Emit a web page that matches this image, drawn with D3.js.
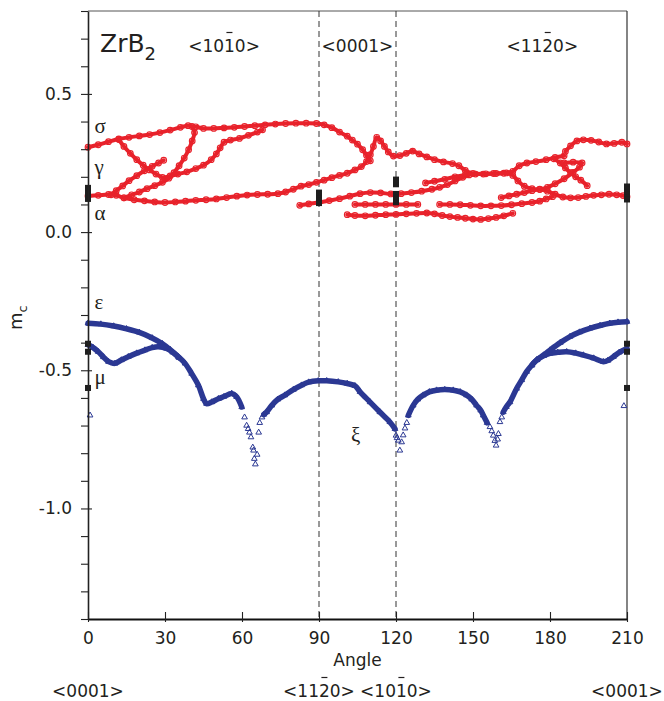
<!DOCTYPE html>
<html><head><meta charset="utf-8">
<script src="https://cdn.jsdelivr.net/npm/d3@7"></script>
<style>
html,body{margin:0;padding:0;background:#fff;}
svg text{font-family:"DejaVu Sans",sans-serif;fill:#231f20;}
svg text.greek{font-family:"Liberation Serif","DejaVu Serif",serif;}
</style></head><body>
<svg id="chart" width="664" height="701"></svg>
<script>
// ---- Schmid-factor branches, [angle (deg), m_c] ----
// red (circles): basal / prismatic systems
const sigmaTop = [[0,0.307],[4,0.316],[8,0.327],[12,0.337],[16,0.343],[20,0.348],[24,0.353],[28,0.36],[32,0.369],[36,0.379],[39,0.385],[42,0.381],[45,0.375],[49,0.375],[53,0.377],[57,0.379],[61,0.382],[65,0.385],[69,0.388],[73,0.391],[77,0.393],[81,0.394],[85,0.394],[89,0.393],[92,0.388],[95,0.378],[98,0.362],[101,0.347],[103,0.333],[105,0.318],[107,0.298],[108.5,0.278],[110,0.258]];
const gammaA = [[12,0.335],[14,0.31],[16.5,0.285],[19,0.262],[21.5,0.242],[24,0.225],[26.5,0.21],[29,0.198],[32,0.203],[35,0.21],[38.5,0.218],[42,0.23],[45,0.242],[48,0.262],[50,0.283],[51.5,0.305],[53,0.325],[55.5,0.333],[59,0.339],[62.5,0.35],[66,0.362],[68,0.37]];
const gammaB = [[9,0.135],[11,0.15],[13.5,0.167],[16,0.186],[19,0.204],[22,0.222],[25,0.238],[27.5,0.25],[29.5,0.26]];
const gammaC = [[14,0.124],[17,0.135],[20,0.145],[23,0.157],[26,0.168],[29,0.18],[31.5,0.195],[33.5,0.215],[35.5,0.24],[37.5,0.268],[39.2,0.298],[40.6,0.33],[41.5,0.36],[40.5,0.382]];
const alphaMain = [[0,0.131],[4,0.133],[8,0.136],[11,0.133],[14,0.124],[18,0.117],[22,0.113],[26,0.109],[30,0.107],[34,0.109],[38,0.112],[42,0.115],[46,0.117],[50,0.12],[54,0.125],[58,0.13],[62,0.134],[66,0.136],[70,0.137],[74,0.139],[77,0.145],[80,0.155],[83,0.166],[86,0.172],[89,0.18],[92,0.188],[95,0.197],[98,0.205],[101,0.213],[104,0.225],[106.5,0.237],[108.5,0.255],[110,0.28],[111.2,0.31],[112.5,0.343],[114,0.33],[115.5,0.31],[117,0.29],[119,0.275],[121.5,0.277],[124,0.285],[126.5,0.293],[129,0.283],[132,0.272],[135,0.262],[138.5,0.254],[142,0.248],[144.5,0.24],[147,0.223],[150,0.212],[154,0.21],[158,0.212],[162,0.213],[165.5,0.22],[168,0.24],[171,0.25],[174.5,0.255],[178.5,0.262],[182,0.27],[185.5,0.276]];
const midLine = [[82.5,0.097],[86,0.102],[90,0.107],[94,0.114],[98,0.121],[102,0.13],[106,0.139],[110,0.143],[114,0.142],[118,0.138],[122,0.139],[126,0.143],[130,0.148],[134,0.155],[137,0.162],[140,0.172],[143,0.185],[146,0.198],[148.5,0.207]];
const gammaRight = [[131.5,0.178],[135,0.184],[139,0.191],[143,0.2],[147,0.207],[151,0.21],[155,0.211],[159,0.212],[163,0.214],[165.5,0.205],[167.5,0.185],[170,0.166],[173,0.157],[176,0.155],[179,0.162],[182,0.175],[185.5,0.193],[189,0.216],[191.5,0.235],[192.5,0.25],[189,0.253],[185.5,0.25]];
const crossRight = [[181.5,0.265],[184,0.25],[186,0.232],[188,0.215],[190,0.2],[192,0.188],[194.5,0.168]];
const topRight = [[186,0.292],[188,0.312],[190.5,0.33],[193,0.334],[196,0.332],[199,0.326],[202,0.319],[205,0.321],[208,0.325],[210,0.319]];
const alphaRight = [[161,0.125],[164,0.131],[167,0.137],[170,0.143],[173,0.15],[176,0.154],[179,0.148],[182,0.137],[185,0.127],[188,0.124],[191,0.125],[194,0.129],[197,0.133],[200,0.135],[203,0.137],[206,0.135],[208.5,0.132],[210,0.128]];
const flatLeft = [[104,0.1],[108,0.1],[112,0.1],[116,0.1],[120,0.1],[124,0.1],[128.5,0.1]];
const flatRight = [[137,0.1],[141,0.1],[145,0.099],[149,0.097],[153,0.095],[157,0.095],[161,0.096],[165,0.099],[169,0.103],[173,0.107],[176,0.112],[178.5,0.12],[181,0.128]];
const lowLine = [[101,0.063],[104,0.06],[108,0.059],[112,0.061],[116,0.063],[120,0.064],[124,0.066],[128,0.068],[132,0.069],[135,0.066],[138,0.06],[141,0.056],[144,0.053],[147,0.05],[150,0.047],[153,0.046],[156,0.049],[159,0.053],[162,0.059],[165.5,0.068]];

// blue (triangles): pyramidal systems
const epsLeft = [[0,-0.33],[5,-0.333],[10,-0.34],[15,-0.35],[20,-0.363],[25,-0.383],[29,-0.404],[32,-0.425],[35.2,-0.451],[37.8,-0.475],[40.4,-0.512],[43,-0.554],[45,-0.603],[46.2,-0.621],[48.2,-0.615],[50.8,-0.603],[53,-0.595],[56,-0.584],[57.9,-0.596],[59.9,-0.633]];
const muLeft = [[0,-0.408],[2,-0.418],[4,-0.433],[6,-0.452],[8,-0.469],[10.5,-0.475],[13,-0.463],[15.7,-0.451],[19,-0.438],[22.2,-0.427],[25,-0.418],[27.4,-0.415],[30.6,-0.421],[33,-0.435],[35.5,-0.455]];
const arch90 = [[68.5,-0.66],[69.6,-0.651],[71.6,-0.627],[74,-0.605],[76.7,-0.59],[80,-0.57],[83.2,-0.554],[86,-0.543],[89.7,-0.538],[93,-0.538],[97.5,-0.542],[101,-0.548],[104,-0.556],[106,-0.578],[109.9,-0.615],[113.7,-0.651],[117.6,-0.687],[119.6,-0.712]];
const arch135 = [[124.8,-0.663],[126.7,-0.627],[128.5,-0.605],[130.6,-0.59],[133,-0.578],[135.8,-0.572],[139,-0.57],[142.3,-0.572],[145,-0.578],[147.5,-0.59],[149.5,-0.605],[151.4,-0.627],[153,-0.645],[154,-0.663],[155.5,-0.69]];
const epsRight = [[161.8,-0.651],[163,-0.632],[164.4,-0.615],[167,-0.566],[169,-0.535],[170.9,-0.505],[172.8,-0.483],[174.8,-0.463],[177.5,-0.445],[180,-0.427],[184,-0.4],[187.8,-0.378],[191.5,-0.362],[195.6,-0.348],[199.5,-0.338],[203.3,-0.33],[206.5,-0.326],[210,-0.324]];
const muRight = [[173,-0.48],[175,-0.462],[177.5,-0.448],[180,-0.439],[183,-0.435],[186.5,-0.433],[190,-0.438],[193,-0.445],[197,-0.456],[200.8,-0.469],[202.5,-0.465],[204.7,-0.451],[207,-0.435],[210,-0.421]];
// scattered points near the minima
const blueScatter = [[0.8,-0.663],[61,-0.67],[61.8,-0.70],[62.4,-0.712],[62.9,-0.725],[63.5,-0.742],[64.2,-0.779],[64.5,-0.79],[64.8,-0.82],[65.2,-0.84],[65.9,-0.805],[66.5,-0.725],[66.9,-0.69],[67.8,-0.67],
  [120,-0.736],[120.4,-0.745],[120.9,-0.754],[121.5,-0.79],[122.2,-0.76],[122.8,-0.735],[123.5,-0.71],[124.2,-0.69],
  [156.6,-0.705],[157.3,-0.72],[157.9,-0.736],[158.5,-0.755],[159,-0.772],[159.6,-0.75],[159.9,-0.73],[160.5,-0.687],[161.2,-0.67],[208.8,-0.629]];

// black: values at the symmetric directions
const blackPoints = [[0,0.12],[0,0.13],[0,0.14],[0,0.15],[0,0.16],[90,0.105],[90,0.115],[90,0.125],[90,0.135],[90,0.143],[120,0.108],[120,0.118],[120,0.128],[120,0.138],[120,0.173],[120,0.19],[210,0.118],[210,0.128],[210,0.138],[210,0.148],[210,0.158],[210,0.165],[0,-0.404],[0,-0.433],[0,-0.564],[210,-0.404],[210,-0.433],[210,-0.564]];

// axes
const xTicks = [0,30,60,90,120,150,180,210];
const yMajor = [-1.0,-0.5,0.0,0.5];
const dashedAt = [90,120];
const topLabels = [{t:"<1010>", at:53, bar:3},{t:"<0001>", at:105, bar:-1},{t:"<1120>", at:177, bar:3}];
const bottomLabels = [{t:"<0001>", at:0, bar:-1},{t:"<1120>", at:90, bar:3},{t:"<1010>", at:120, bar:3},{t:"<0001>", at:210, bar:-1}];
const greekLabels = [{t:"σ", a:2.5, v:0.358},{t:"γ", a:2.5, v:0.21},{t:"α", a:2.5, v:0.045},{t:"ε", a:2.5, v:-0.28},{t:"μ", a:2.5, v:-0.55},{t:"ξ", a:102.5, v:-0.76}];

const redColor = "#e8222b", blueColor = "#2b3893";
const svg = d3.select("#chart");
const x = d3.scaleLinear().domain([0,210]).range([88,627]);
const y = d3.scaleLinear().domain([-1.4,0.8]).range([619,11]);
const line = d3.line().x(d=>x(d[0])).y(d=>y(d[1])).curve(d3.curveCatmullRom.alpha(0.5));

// frame
svg.append("line").attr("x1",x(0)).attr("x2",x(210)).attr("y1",y(0.8)).attr("y2",y(0.8)).attr("stroke","#555").attr("stroke-width",1);
svg.append("line").attr("x1",x(210)).attr("x2",x(210)).attr("y1",y(0.8)).attr("y2",y(-1.4)).attr("stroke","#333").attr("stroke-width",1.2);
svg.selectAll(".dash").data(dashedAt).join("line").attr("x1",d=>x(d)).attr("x2",d=>x(d)).attr("y1",y(0.8)).attr("y2",y(-1.4))
  .attr("stroke","#333").attr("stroke-width",1).attr("stroke-dasharray","6,4");

// red branches
const redBranches = [sigmaTop,gammaA,gammaB,gammaC,alphaMain,midLine,gammaRight,crossRight,topRight,alphaRight,flatLeft,flatRight,lowLine];
const gRed = svg.append("g");
redBranches.forEach(b=>{
  gRed.append("path").attr("d",line(b)).attr("fill","none").attr("stroke",redColor).attr("stroke-width",4).attr("stroke-linecap","round");
  gRed.selectAll(null).data(b).join("circle").attr("cx",d=>x(d[0])).attr("cy",d=>y(d[1])).attr("r",2.8)
    .attr("fill","none").attr("stroke",redColor).attr("stroke-width",1.2);
});

// blue branches
const blueBranches = [epsLeft,muLeft,arch90,arch135,epsRight,muRight];
const gBlue = svg.append("g");
const tri = d3.symbol().type(d3.symbolTriangle).size(14);
blueBranches.forEach(b=>{
  gBlue.append("path").attr("d",line(b)).attr("fill","none").attr("stroke",blueColor).attr("stroke-width",5.5).attr("stroke-linecap","round");
});
gBlue.selectAll(".tri").data(blueBranches.flat().concat(blueScatter)).join("path")
  .attr("transform",d=>`translate(${x(d[0])},${y(d[1])})`).attr("d",tri)
  .attr("fill","none").attr("stroke",blueColor).attr("stroke-width",1);

// black squares
svg.selectAll(".sq").data(blackPoints).join("rect")
  .attr("x",d=>x(d[0])-3).attr("y",d=>y(d[1])-3).attr("width",6).attr("height",6).attr("fill","#1e1e1e");

// y axis
const yAll = d3.range(-14,9).map(v=>v/10);
const yAxis = d3.axisLeft(y).tickValues(yAll).tickSizeInner(7).tickSizeOuter(0).tickPadding(9)
  .tickFormat(d=> yMajor.some(m=>Math.abs(m-d)<1e-9) ? d.toFixed(1) : "");
const gy = svg.append("g").attr("transform",`translate(${x(0)},0)`).call(yAxis);
gy.select(".domain").attr("stroke","#222").attr("stroke-width",1.6);
gy.selectAll(".tick line").attr("stroke","#222").attr("stroke-width",1.1)
  .attr("x1",d=> yMajor.some(m=>Math.abs(m-d)<1e-9) ? 4 : 0);
gy.selectAll(".tick text").style("font-size","17px").attr("fill","#231f20");

// x axis
const xAxis = d3.axisBottom(x).tickValues(xTicks).tickSizeInner(-7).tickSizeOuter(0).tickPadding(13).tickFormat(d=>d);
const gx = svg.append("g").attr("transform",`translate(0,${y(-1.4)})`).call(xAxis);
gx.select(".domain").attr("stroke","#111").attr("stroke-width",2);
gx.selectAll(".tick line").attr("stroke","#222").attr("stroke-width",1.1).attr("y1",3);
gx.selectAll(".tick text").style("font-size","17px").attr("fill","#231f20");

// axis titles
svg.append("text").attr("x",x(105)).attr("y",666).attr("text-anchor","middle").style("font-size","17px").text("Angle");
const yt = svg.append("text").attr("transform","translate(22,330) rotate(-90)").style("font-size","18px");
yt.append("tspan").text("m");
yt.append("tspan").attr("dy",5).style("font-size","13px").text("c");

// direction labels with overbar on one digit
function dirLabel(item, px, baseline){
  const t = svg.append("text").attr("x",px).attr("y",baseline).attr("text-anchor","middle").style("font-size","17px").text(item.t);
  if(item.bar>=0){
    const b = t.node().getExtentOfChar(item.bar);
    const cx = b.x + b.width/2;
    svg.append("line").attr("x1",cx-3).attr("x2",cx+3).attr("y1",baseline-19.5).attr("y2",baseline-19.5)
      .attr("stroke","#231f20").attr("stroke-width",1.2);
  }
}
topLabels.forEach(d=>dirLabel(d, x(d.at), 52));
bottomLabels.forEach(d=>dirLabel(d, x(d.at), 697));

// title
const tt = svg.append("text").attr("x",100).attr("y",52).style("font-size","25px");
tt.append("tspan").text("ZrB");
tt.append("tspan").attr("dy",8).style("font-size","18px").text("2");

// slip-system symbols
svg.selectAll(".greek").data(greekLabels).join("text").attr("class","greek")
  .attr("x",d=>x(d.a)).attr("y",d=>y(d.v)).style("font-size","21px").text(d=>d.t);
</script>
</body></html>
